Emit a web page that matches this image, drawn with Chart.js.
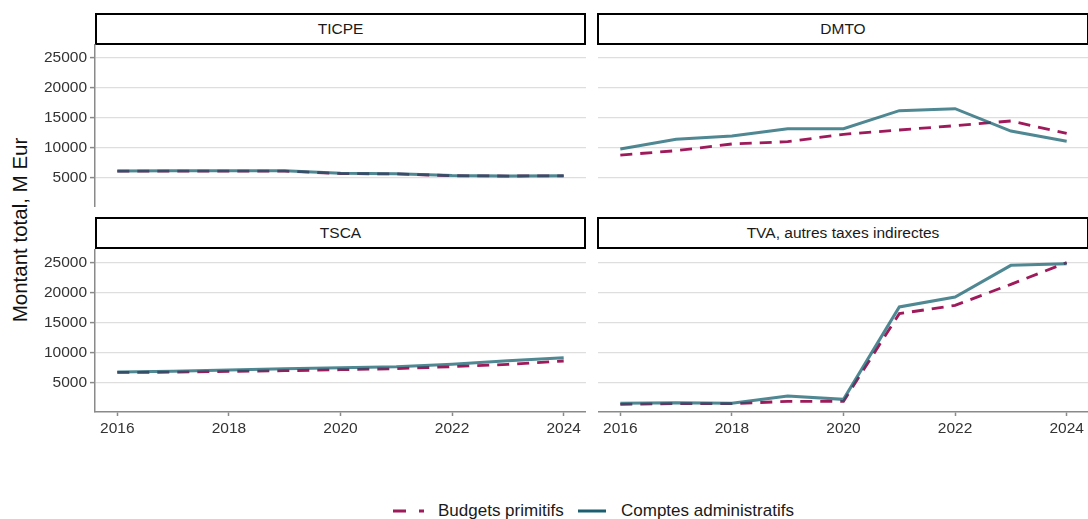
<!DOCTYPE html>
<html>
<head>
<meta charset="utf-8">
<script src="https://cdn.jsdelivr.net/npm/chart.js@4.4.1/dist/chart.umd.min.js"></script>
<style>
  html, body { margin:0; padding:0; background:#fff; overflow:hidden; }
  body { width:1088px; height:519px; position:relative; font-family:"Liberation Sans", Arial, sans-serif; }
  canvas { position:absolute; }
  .strip { position:absolute; box-sizing:border-box; border:2px solid #000; background:#fff;
           display:flex; align-items:center; justify-content:center; font-size:15.5px; color:#1a1a1a; height:32px; }
  #ytitle { position:absolute; left:20px; top:230px; transform:translate(-50%,-50%) rotate(-90deg);
            white-space:nowrap; font-size:20.5px; color:#111; }
  #legend { position:absolute; top:500px; left:0; width:1088px; height:22px; }
  .lg { position:absolute; top:0; font-size:17px; color:#1a1a1a; line-height:22px; white-space:nowrap; }
</style>
</head>
<body>
<div class="strip" style="left:95px; top:13px; width:491px;">TICPE</div>
<div class="strip" style="left:597px; top:13px; width:492px;">DMTO</div>
<div class="strip" style="left:95px; top:217px; width:491px;">TSCA</div>
<div class="strip" style="left:597px; top:217px; width:492px;">TVA, autres taxes indirectes</div>
<div id="ytitle">Montant total, M Eur</div>

<canvas id="c1" width="586" height="163" style="left:0px; top:44px;"></canvas>
<canvas id="c2" width="491" height="163" style="left:598px; top:44px;"></canvas>
<canvas id="c3" width="586" height="193" style="left:0px; top:249px;"></canvas>
<canvas id="c4" width="491" height="193" style="left:598px; top:249px;"></canvas>

<div id="legend">
  <svg style="position:absolute; left:393px; top:0;" width="32" height="22"><line x1="0" y1="11" x2="31" y2="11" stroke="#9e1a5a" stroke-width="3" stroke-dasharray="13 13"/></svg>
  <span class="lg" style="left:438px;">Budgets primitifs</span>
  <svg style="position:absolute; left:578px; top:0;" width="30" height="22"><line x1="0" y1="11" x2="28" y2="11" stroke="#1b5e70" stroke-width="3"/></svg>
  <span class="lg" style="left:621px;">Comptes administratifs</span>
</div>

<script>
// ---- data ----
const years = [2016, 2017, 2018, 2019, 2020, 2021, 2022, 2023, 2024];
const xTickValues = [2016, 2018, 2020, 2022, 2024];
const yTickValues = [5000, 10000, 15000, 20000, 25000];
const seriesNames = ["Budgets primitifs", "Comptes administratifs"];
const panelTitles = ["TICPE", "DMTO", "TSCA", "TVA, autres taxes indirectes"];

const ticpeBP = [6150, 6150, 6150, 6150, 5750, 5680, 5380, 5330, 5360];
const ticpeCA = [6180, 6200, 6190, 6200, 5790, 5710, 5400, 5350, 5380];

const dmtoBP = [8830, 9550, 10670, 11060, 12280, 13000, 13720, 14500, 12440];
const dmtoCA = [9830, 11440, 12000, 13220, 13220, 16220, 16550, 12830, 11110];

const tscaBP = [6780, 6800, 6940, 7050, 7220, 7390, 7720, 8110, 8670];
const tscaCA = [6830, 6950, 7170, 7380, 7560, 7720, 8110, 8700, 9220];

const tvaBP = [1440, 1560, 1560, 1940, 1940, 16560, 17940, 21440, 25060];
const tvaCA = [1610, 1720, 1610, 2830, 2280, 17670, 19330, 24610, 24890];

// ---- styles ----
const colBP = "#9e1a5a";
const colCA = "rgba(20,95,110,0.75)";
const axisGrey = "#8a8a8a";
const gridGrey = "#dedede";
const tickFont = { family: "'Liberation Sans', Arial, sans-serif", size: 15.5 };
const tickColor = "#333";

function pts(vals) { return years.map((y, i) => ({ x: y, y: vals[i] })); }

function makeChart(id, bp, ca, showY, showX) {
  const ctx = document.getElementById(id);
  return new Chart(ctx, {
    type: "line",
    data: {
      datasets: [
        { label: seriesNames[1], data: pts(ca), borderColor: colCA, borderWidth: 3, order: 0,
          pointRadius: 0, tension: 0, fill: false },
        { label: seriesNames[0], data: pts(bp), borderColor: colBP, borderWidth: 2.8, borderDash: [12, 8],
          order: 1, pointRadius: 0, tension: 0, fill: false }
      ]
    },
    options: {
      responsive: false,
      animation: false,
      devicePixelRatio: 1,
      layout: { padding: 0 },
      plugins: { legend: { display: false }, tooltip: { enabled: false } },
      scales: {
        x: {
          type: "linear",
          min: 2015.6, max: 2024.4,
          display: showX,
          afterBuildTicks: s => { s.ticks = xTickValues.map(v => ({ value: v })); },
          afterFit: s => { if (showX) { s.height = 30; } s.paddingLeft = 0; s.paddingRight = 0; },
          ticks: { font: tickFont, color: tickColor, padding: 3, maxRotation: 0, autoSkip: false,
                   callback: v => String(v) },
          grid: { drawOnChartArea: false, drawTicks: true, tickLength: 4, tickColor: axisGrey, tickWidth: 1.5 },
          border: { display: true, color: axisGrey, width: 1.5 }
        },
        y: {
          type: "linear",
          min: 170, max: 27330,
          afterBuildTicks: s => { s.ticks = yTickValues.map(v => ({ value: v })); },
          afterFit: s => { s.width = showY ? 95 : 0; s.paddingTop = 0; s.paddingBottom = 0; },
          ticks: { display: showY, font: tickFont, color: tickColor, padding: 3, callback: v => String(v) },
          grid: { color: gridGrey, lineWidth: 1.2, drawTicks: showY, tickLength: 5, tickColor: axisGrey, tickWidth: 1.5 },
          border: { display: showY, color: axisGrey, width: 1.5 }
        }
      }
    }
  });
}

makeChart("c1", ticpeBP, ticpeCA, true, false);
makeChart("c2", dmtoBP, dmtoCA, false, false);
makeChart("c3", tscaBP, tscaCA, true, true);
makeChart("c4", tvaBP, tvaCA, false, true);
</script>
</body>
</html>
